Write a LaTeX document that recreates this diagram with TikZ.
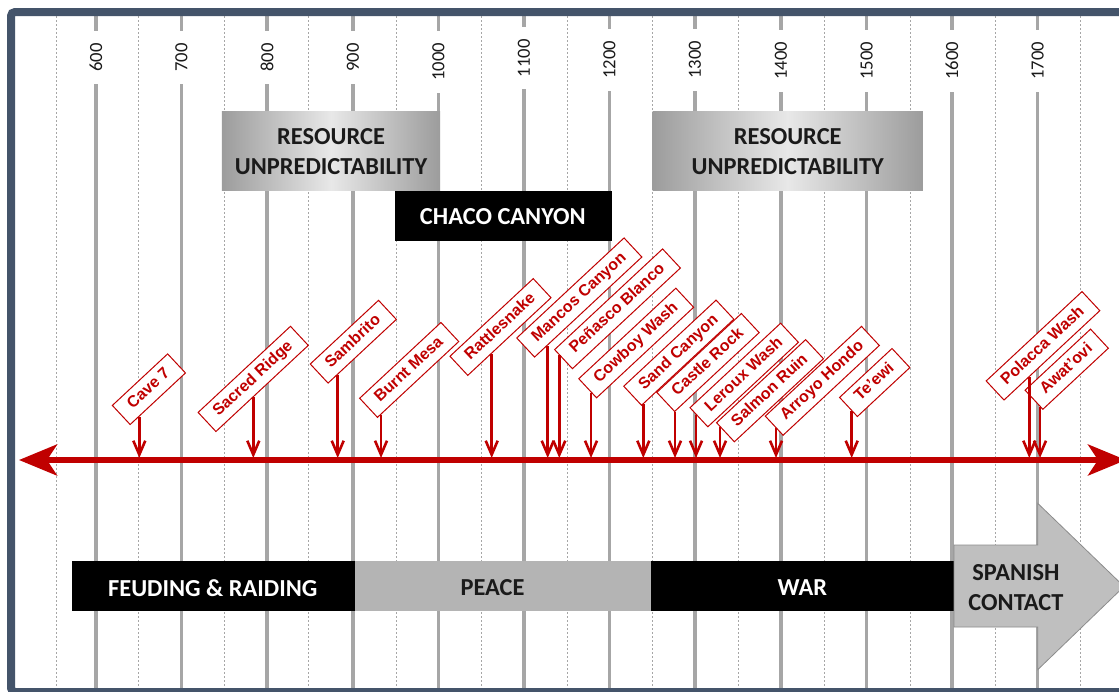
\documentclass[tikz,border=0pt]{standalone}
\usepackage{fontspec}
\setmainfont{Carlito}
\newfontfamily\labfont{Liberation Sans}
\usetikzlibrary{arrows.meta,calc}
\definecolor{frameC}{HTML}{44546A}
\definecolor{gridC}{HTML}{A6A6A6}
\definecolor{redC}{HTML}{C00000}
\definecolor{peaceC}{HTML}{B4B4B4}
\definecolor{spanC}{HTML}{BFBFBF}
\definecolor{spanE}{HTML}{8C8C8C}
\definecolor{resEdge}{HTML}{9C9C9C}
\definecolor{resMid}{HTML}{E8E8E8}
\definecolor{txtC}{HTML}{1A1A1A}
% arrow from the lower edge of an event box straight down to the timeline
\newcommand\evarrow[3]{%
  \draw[evline] let \p1=(#1.#2), \p2=(#1.#3), \p3=(t-#1) in
    ({\x3},{\y1+((\x3)-(\x1))/((\x2)-(\x1))*((\y2)-(\y1))}) -- (t-#1);}
\begin{document}
\begin{tikzpicture}[x=1pt,y=-1pt,
  gridline/.style={draw=gridC, line width=3.5pt},
  griddash/.style={draw=gridC, line width=0.8pt, dash pattern=on 2pt off 2pt},
  yearlab/.style={fill=white, rotate=90, inner xsep=12pt, inner ysep=2pt,
    font=\fontsize{18.6pt}{20pt}\selectfont, text=txtC},
  bigtext/.style={font=\bfseries\fontsize{24.4pt}{30pt}\selectfont, inner sep=0pt, align=center},
  resbox/.style={left color=resEdge, right color=resEdge, middle color=resMid,
    inner sep=0pt, minimum height=79pt, anchor=north west, bigtext, text=txtC},
  barbox/.style={inner sep=0pt, minimum height=50pt, anchor=north west},
  evbox/.style={draw=redC, line width=1pt, fill=white, rotate=43,
    inner xsep=12pt, inner ysep=5.6pt, text height=11.6pt, text depth=3.3pt,
    text=redC, font=\labfont\fontsize{16pt}{18pt}\bfseries\selectfont},
  evline/.style={draw=redC, line width=2.6pt, -{Straight Barb[length=14pt,width=12pt]}},
  timeline/.style={draw=redC, line width=5.5pt,
    {Stealth[length=38pt,width=31pt,inset=10pt]}-{Stealth[length=38pt,width=31pt,inset=10pt]}}
]
\useasboundingbox (0,0) rectangle (1119,691);
\clip (0,0) rectangle (1119,691);
\fill[white] (0,0) rectangle (1119,691);

% half-century dashed lines
\foreach \x in {56,138.5,224,308.5,396.5,481.5,567,652,738,824,910.5,995.5,1080.7}
  \draw[griddash] (\x,16) -- (\x,690);
% century lines
\foreach \x in {96,181.5,267,353,438.5,524,609.5,695,781,866.7,952,1037.7}
  \draw[gridline] (\x,14) -- (\x,690);
% year labels
\foreach \x/\yr/\yc in {96/600/57.5,181.5/700/57.5,267/800/57.5,353/900/57.5,
   438.5/1000/62,524/1100/58.3,609.5/1200/60,695/1300/60,781/1400/60.8,
   866.7/1500/60.8,952/1600/60.8,1037.7/1700/60.8}
  \node[yearlab] (y\yr) at (\x,\yc) {\yr};

% resource unpredictability and Chaco
\node[resbox, minimum width=218.3pt] (res1) at (221.7,111.7) {RESOURCE\\UNPREDICTABILITY};
\node[resbox, minimum width=270.4pt] (res2) at (652.3,111.7) {RESOURCE\\UNPREDICTABILITY};
\node[barbox, fill=black, minimum width=216.7pt, minimum height=49.5pt] (chaco) at (395,191) {};
\node[bigtext, text=white] (chacot) at (502.8,216.5) {CHACO CANYON};

% period bars
\node[barbox, fill=black, minimum width=283.2pt] (feud) at (71.4,561) {};
\node[barbox, fill=peaceC, minimum width=296.4pt] (peace) at (354.6,561) {};
\node[barbox, fill=black, minimum width=303pt] (war) at (651,561) {};
\draw[fill=spanC, draw=spanE, line width=0.8pt]
  (954,545) -- (1037.7,545) -- (1037.7,503.3) -- (1124,586.5) -- (1037.7,669.7)
  -- (1037.7,627) -- (954,627) -- cycle;
\node[bigtext, text=white] (feudt) at (212.8,588) {FEUDING \& RAIDING};
\node[bigtext, text=txtC] (peacet) at (492.5,588) {PEACE};
\node[bigtext, text=white] (wart) at (802.3,588) {WAR};
\node[bigtext, text=txtC] (spant) at (1016,587.5) {SPANISH\\CONTACT};

% timeline
\coordinate (tlL) at (19,460);
\coordinate (tlR) at (1126,460);
\draw[timeline] (tlL) -- (tlR);

% event boxes
\node[evbox] (cave) at (148.9,389.2) {Cave 7};
\node[evbox] (sacred) at (253.2,378.9) {Sacred Ridge};
\node[evbox] (sambrito) at (353.3,341.7) {Sambrito};
\node[evbox] (burnt) at (409.2,369.9) {Burnt Mesa};
\node[evbox] (rattle) at (500.5,327) {Rattlesnake};
\node[evbox] (mancos) at (579.3,297.5) {Mancos Canyon};
\node[evbox] (penasco) at (617.5,308.8) {Peñasco Blanco};
\node[evbox] (cowboy) at (636.2,343) {Cowboy Wash};
\node[evbox] (sand) at (678.8,352.7) {Sand Canyon};
\node[evbox] (castle) at (708,362.5) {Castle Rock};
\node[evbox] (leroux) at (744.2,375) {Leroux Wash};
\node[evbox] (salmon) at (770,390.7) {Salmon Ruin};
\node[evbox] (arroyo) at (822.3,380.8) {Arroyo Hondo};
\node[evbox] (teewi) at (874.7,382.5) {Te’ewi};
\node[evbox] (polacca) at (1043,345.8) {Polacca Wash};
\node[evbox] (awatovi) at (1066.7,369.2) {Awat’ovi};

% arrow targets on the timeline
\foreach \n/\x in {cave/139.3,sacred/253.3,sambrito/337.7,burnt/381,rattle/491.7,
   mancos/547.7,penasco/559.3,cowboy/591,sand/643.3,castle/675,leroux/696,
   salmon/720,arroyo/776,teewi/851.7,polacca/1029.3,awatovi/1040}
  \coordinate (t-\n) at (\x,458);

\evarrow{cave}{south west}{south east}
\evarrow{sacred}{south west}{south east}
\evarrow{sambrito}{south west}{south east}
\evarrow{burnt}{south west}{south east}
\evarrow{rattle}{south west}{south east}
\evarrow{mancos}{south west}{south east}
\evarrow{penasco}{north west}{south west}
\evarrow{cowboy}{north west}{south west}
\evarrow{sand}{south west}{south east}
\evarrow{castle}{south west}{south east}
\evarrow{leroux}{north west}{south west}
\evarrow{salmon}{north west}{south west}
\evarrow{arroyo}{north west}{south west}
\evarrow{teewi}{north west}{south west}
\evarrow{polacca}{south west}{south east}
\evarrow{awatovi}{north west}{south west}

% frame
\draw[frameC, line width=8pt, rounded corners=4pt] (11,12) rectangle (1127,692);
\end{tikzpicture}
\end{document}
